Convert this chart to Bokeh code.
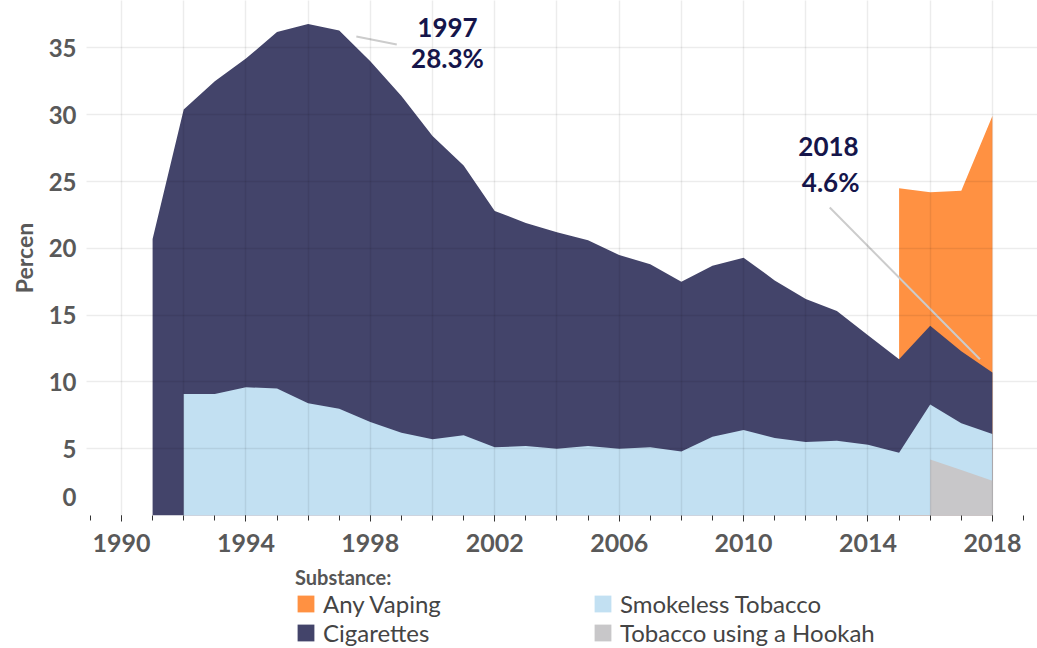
import numpy as np
from bokeh.plotting import figure
from bokeh.layouts import column
from bokeh.models import Range1d, FixedTicker, Legend, LegendItem, Label, ColumnDataSource
from bokeh.embed import file_html
from bokeh.resources import INLINE

# ---------------- data ----------------
years = list(range(1991, 2019))
# individual band values (percent), None = not surveyed
hookah = [None] * 25 + [4.2, 3.4, 2.6]
smokeless = [None] + [9.1, 9.1, 9.6, 9.5, 8.4, 8.0, 7.0, 6.2, 5.7, 6.0, 5.1, 5.2, 5.0, 5.2,
                      5.0, 5.1, 4.8, 5.9, 6.4, 5.8, 5.5, 5.6, 5.3, 4.7, 4.1, 3.5, 3.5]
cigarettes = [20.7, 21.3, 23.4, 24.6, 26.7, 28.4, 28.3, 27.0, 25.2, 22.7, 20.2, 17.7, 16.7, 16.2,
              15.4, 14.5, 13.7, 12.7, 12.8, 12.9, 11.8, 10.7, 9.7, 8.2, 7.0, 5.9, 5.4, 4.6]
vaping = [None] * 24 + [12.8, 10.0, 12.0, 19.2]

series_names = ["Tobacco using a Hookah", "Smokeless Tobacco", "Cigarettes", "Any Vaping"]
series_values = [hookah, smokeless, cigarettes, vaping]
series_colors = ["#C8C7C9", "#C2E0F2", "#43446A", "#FF9142"]

x_ticks = list(range(1990, 2019, 4))
y_ticks = list(range(0, 36, 5))

# ---------------- main figure ----------------
p = figure(width=1037, height=565,
           x_range=Range1d(1988.875, 2019.45), y_range=Range1d(0, 38.55),
           output_backend="svg", toolbar_location=None,
           min_border_left=86, min_border_right=0, min_border_top=0, min_border_bottom=50)
p.outline_line_color = None
p.background_fill_color = "white"
p.border_fill_color = "white"

# stacking (bottom -> top), each area drawn from 0 to its cumulative top
cum = np.zeros(len(years))
tops = []
for vals in series_values:
    arr = np.array([0.0 if v is None else v for v in vals])
    cum = cum + arr
    mask = [v is not None for v in vals]
    xs = [y for y, m in zip(years, mask) if m]
    ts = [c for c, m in zip(cum, mask) if m]
    tops.append((xs, ts))

for i in [3, 2, 1, 0]:
    xs, ts = tops[i]
    src = ColumnDataSource(dict(x=xs, top=ts, base=[0] * len(xs)))
    p.varea(x="x", y1="base", y2="top", source=src, fill_color=series_colors[i], fill_alpha=1.0)

# ---------------- axes ----------------
xa = p.xaxis[0]
xa.ticker = FixedTicker(ticks=x_ticks, minor_ticks=years + [1989, 1990, 2019])
xa.major_label_text_font = "Lato"
xa.major_label_text_font_style = "bold"
xa.major_label_text_font_size = "25px"
xa.major_label_text_color = "#595959"
xa.axis_line_color = None
xa.major_tick_line_color = "#333333"
xa.minor_tick_line_color = "#333333"
xa.major_tick_in = 0
xa.major_tick_out = 6
xa.minor_tick_in = 0
xa.minor_tick_out = 5
xa.major_label_standoff = 12

# the "0" label sits a little above its gridline in the reference
y_label_pos = [1.35] + y_ticks[1:]
ya = p.yaxis[0]
ya.ticker = FixedTicker(ticks=y_label_pos)
ya.major_label_overrides = {1.35: "0"}
ya.major_label_text_font = "Lato"
ya.major_label_text_font_style = "bold"
ya.major_label_text_font_size = "24px"
ya.major_label_text_color = "#595959"
ya.axis_line_color = None
ya.major_tick_line_color = None
ya.minor_tick_line_color = None
ya.major_label_standoff = 4
ya.axis_label = "Percen"
ya.axis_label_text_font = "Lato"
ya.axis_label_text_font_style = "bold"
ya.axis_label_text_font_size = "23px"
ya.axis_label_text_color = "#595959"
ya.axis_label_standoff = 8

p.xgrid.ticker = FixedTicker(ticks=list(range(1990, 2019, 2)))
p.ygrid.ticker = FixedTicker(ticks=y_ticks)
for g in (p.xgrid[0], p.ygrid[0]):
    g.grid_line_color = "black"
    g.grid_line_alpha = 0.075
    g.grid_line_width = 1.5
    g.level = "guide"

# ---------------- annotations ----------------
ann_color = "#15154A"
p.segment(x0=[1997.55], y0=[35.85], x1=[1998.85], y1=[35.25], line_color="#CCCCCC", line_width=2)
p.segment(x0=[2012.77], y0=[23.05], x1=[2017.6], y1=[11.7], line_color="#CCCCCC", line_width=2)
for x, y, t in [(2000.48, 36.53, "1997"), (2000.48, 34.28, "28.3%"),
                (2012.73, 27.62, "2018"), (2012.8, 25.0, "4.6%")]:
    p.add_layout(Label(x=x, y=y, text=t, text_align="center", text_baseline="middle",
                       text_font="Lato", text_font_style="bold", text_font_size="26px",
                       text_color=ann_color))

# ---------------- legend (own strip below the chart) ----------------
lg = figure(width=1037, height=83, x_range=Range1d(0, 1), y_range=Range1d(0, 1),
            x_axis_type=None, y_axis_type=None, output_backend="svg", toolbar_location=None,
            min_border_left=86, min_border_right=0, min_border_top=0, min_border_bottom=0)
lg.outline_line_color = None
lg.grid.visible = False
keys = {}
for name, color in zip(series_names, series_colors):
    # key swatches only: a zero-size area placed outside the visible range
    keys[name] = lg.varea(x=[-3, -2], y1=[-3, -3], y2=[-3, -3], fill_color=color)

order = ["Any Vaping", "Cigarettes", "Smokeless Tobacco", "Tobacco using a Hookah"]
legend = Legend(items=[LegendItem(label=n, renderers=[keys[n]]) for n in order],
                location=(209, 1), ncols=2, orientation="vertical",
                title="Substance:", title_text_font="Lato", title_text_font_style="bold",
                title_text_font_size="20px", title_text_color="#555555", title_standoff=0,
                label_text_font="Lato", label_text_font_size="24px", label_text_color="#444444",
                glyph_width=21, glyph_height=21, label_standoff=7, label_width=269,
                spacing=0, padding=0, margin=0, border_line_color=None,
                background_fill_alpha=0)
lg.add_layout(legend, "center")

page = column(p, lg, spacing=0)
open("out.html", "w").write(file_html(page, INLINE))
